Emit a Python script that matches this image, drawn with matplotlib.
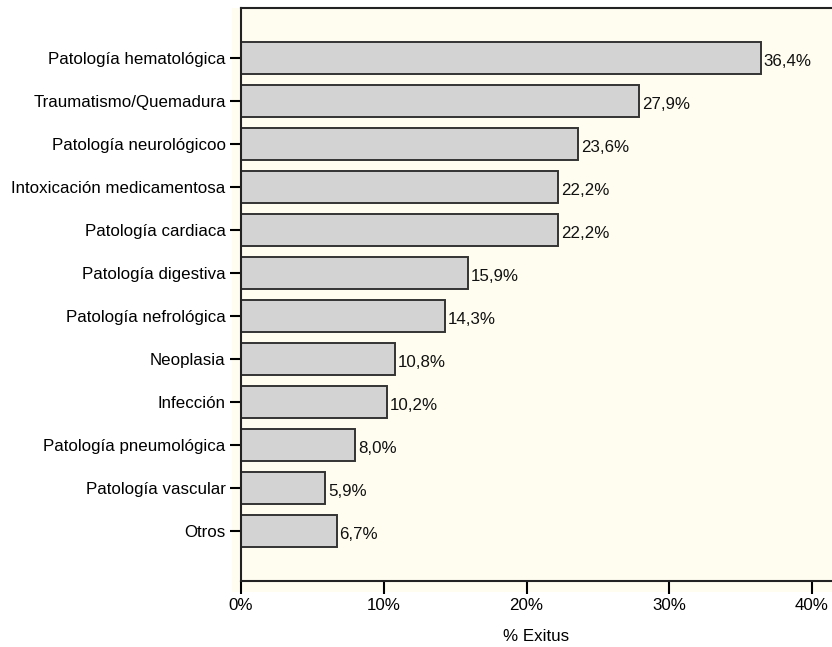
import matplotlib
matplotlib.use("Agg")
import matplotlib.pyplot as plt
from matplotlib.ticker import FuncFormatter

categories = ["Patología hematológica", "Traumatismo/Quemadura", "Patología neurológicoo",
              "Intoxicación medicamentosa", "Patología cardiaca", "Patología digestiva",
              "Patología nefrológica", "Neoplasia", "Infección", "Patología pneumológica",
              "Patología vascular", "Otros"]
values = [36.4, 27.9, 23.6, 22.2, 22.2, 15.9, 14.3, 10.8, 10.2, 8.0, 5.9, 6.7]
xticks = [0, 10, 20, 30, 40]

plt.rcParams['font.family'] = ['Liberation Sans', 'DejaVu Sans']
fs = 12.2
fig = plt.figure(figsize=(8.32, 6.47), dpi=100)
W, H = 832, 647
bg = '#fffdf0'
bgax = fig.add_axes([232 / W, (H - 592) / H, (W - 232) / W, (592 - 8) / H], zorder=0)
bgax.set_facecolor(bg)
for s in bgax.spines.values():
    s.set_visible(False)
bgax.set_xticks([])
bgax.set_yticks([])

ax = fig.add_axes([241 / W, (H - 581) / H, 1 - 241 / W, (581 - 8) / H], zorder=1)
ax.set_facecolor(bg)

ypos = list(range(len(categories)))
ax.barh(ypos, values, height=0.75, color='#d3d3d3', edgecolor='#333333', linewidth=1.4)
for y, v in zip(ypos, values):
    ax.text(v + 0.2, y + 0.08, f"{v:.1f}".replace('.', ',') + '%', va='center', ha='left',
            fontsize=fs, color='#111111')

ax.set_yticks(ypos)
ax.set_yticklabels(categories, fontsize=fs)
ax.set_ylim(len(categories) - 1 + 1.17, -1.17)
ax.set_xlim(0, 41.4)
ax.set_xticks(xticks)
ax.xaxis.set_major_formatter(FuncFormatter(lambda x, p: f"{int(x)}%"))
ax.tick_params(axis='x', labelsize=fs, length=9, width=1.5, direction='out', pad=3)
ax.tick_params(axis='y', length=8, width=1.5, direction='out', pad=3)
ax.set_xlabel('% Exitus', fontsize=fs, labelpad=12)
for s in ['left', 'bottom', 'top']:
    ax.spines[s].set_linewidth(1.5)
    ax.spines[s].set_color('#222222')
ax.spines['right'].set_visible(False)

fig.savefig('out.png', dpi=100)
